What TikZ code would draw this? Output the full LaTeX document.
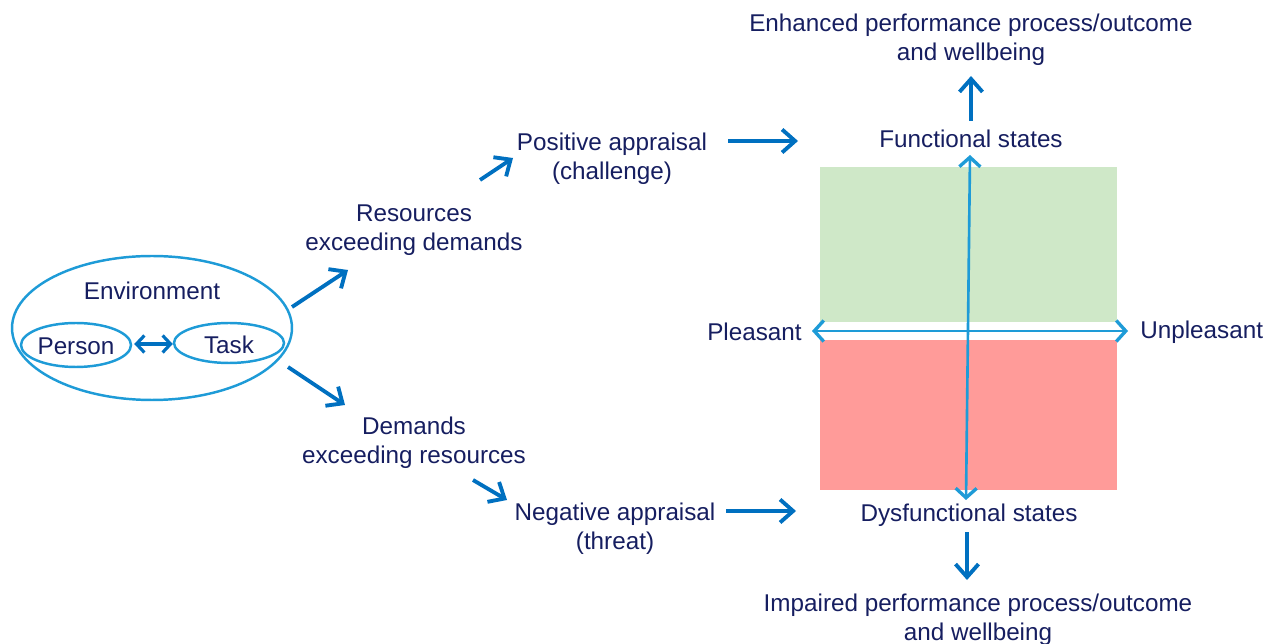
\documentclass[tikz,border=0pt]{standalone}
\usepackage{fontspec}
\setmainfont{Liberation Sans}
\usetikzlibrary{arrows.meta,shapes.geometric,positioning}
\definecolor{navy}{RGB}{22,30,96}
\definecolor{arrowblue}{RGB}{0,112,192}
\definecolor{lineblue}{RGB}{30,155,215}
\definecolor{goodfill}{RGB}{207,232,200}
\definecolor{badfill}{RGB}{255,155,153}
\tikzset{
    txt/.style={text=navy, align=center, inner sep=0pt,
        font=\fontsize{13.8}{16.5}\selectfont},
    oval/.style={ellipse, draw=lineblue, line width=1.4pt, inner sep=0pt},
    arrow/.style={-{Straight Barb[length=2.6mm,width=4.6mm,line width=2.2pt]},
        draw=arrowblue, line width=2.2pt},
    darrow/.style={{Straight Barb[length=1.6mm,width=3.4mm,line width=1.8pt]}-{Straight Barb[length=1.6mm,width=3.4mm,line width=1.8pt]},
        draw=arrowblue, line width=1.8pt},
    axis/.style={{Straight Barb[length=1.9mm,width=4.2mm,line width=1.9pt]}-{Straight Barb[length=1.9mm,width=4.2mm,line width=1.9pt]},
        draw=lineblue, line width=1.5pt}
}
\begin{document}
\begin{tikzpicture}[x=0.02cm,y=-0.02cm]
    \useasboundingbox (0,0) rectangle (1270,644);
    % environment
    \node[oval, minimum width=5.6cm, minimum height=2.88cm] (env) at (152,328) {};
    \node[txt] (envtxt) at (152,291) {Environment};
    \node[oval, minimum width=2.2cm, minimum height=0.88cm] (person) at (76,345) {};
    \node[txt] at ([yshift=-1pt]person.center) {Person};
    \node[oval, minimum width=2.2cm, minimum height=0.8cm] (task) at (229,343) {};
    \node[txt] at ([yshift=-1pt]task.center) {Task};
    \draw[darrow] (person.east) ++(2,-1) coordinate (pt) -- (pt -| task.west);
    % appraisal paths
    \node[txt] (res) at (414,230) {Resources\\exceeding demands};
    \node[txt] (dem) at (414,443) {Demands\\exceeding resources};
    \node[txt] (pos) at (612,159) {Positive appraisal\\(challenge)};
    \node[txt] (neg) at (615,529) {Negative appraisal\\(threat)};
    \coordinate (e1) at (292,307);
    \coordinate (e2) at (288,367);
    \draw[arrow] (e1) -- (348,270) coordinate (r1);
    \draw[arrow] (e2) -- (345,405) coordinate (d1);
    \draw[arrow] (480,180) coordinate (r2) -- (513,158);
    \draw[arrow] (473,480) coordinate (d2) -- (507,500);
    \draw[arrow] (728,141) coordinate (p1) -- (798,141);
    \draw[arrow] (726,511) coordinate (n1) -- (796,511);
    % quadrant
    \fill[goodfill] (820,167) rectangle (1117,322);
    \fill[badfill] (820,340) rectangle (1117,490);
    \node[txt, anchor=east] (pleasant) at (802,332) {Pleasant};
    \node[txt, anchor=west] (unpleasant) at (1140,332) {Unpleasant};
    \node[txt] (func) at (971,139) {Functional states};
    \node[txt] (dysf) at (969,515) {Dysfunctional states};
    \coordinate (h1) at (812,331);
    \coordinate (h2) at (1128,331);
    \draw[axis] (h1) -- (h2);
    \draw[axis] (970,155) coordinate (vtop) -- (966,500) coordinate (vbot);
    \node[txt] (enh) at (971,40) {Enhanced performance process/outcome\\and wellbeing};
    \node[txt] (imp) at (978,620) {Impaired performance process/outcome\\and wellbeing};
    \coordinate (f1) at (971,121);
    \coordinate (f2) at (971,76);
    \coordinate (g1) at (967,532);
    \coordinate (g2) at (967,580);
    \draw[arrow] (f1) -- (f2);
    \draw[arrow] (g1) -- (g2);
\end{tikzpicture}
\end{document}
